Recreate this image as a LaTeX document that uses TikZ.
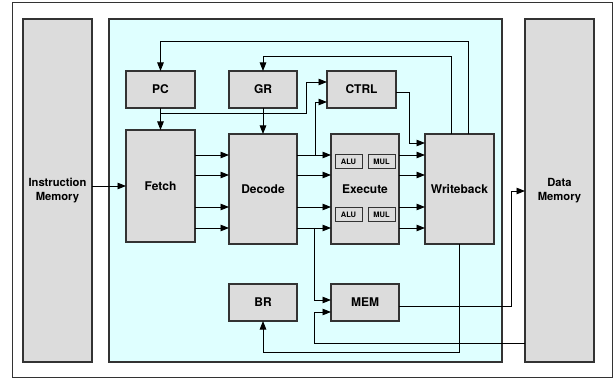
\documentclass[tikz,border=0pt]{standalone}
\usepackage{fontspec}
\setmainfont{TeX Gyre Heros}
\usetikzlibrary{arrows.meta}
\definecolor{boxgray}{HTML}{DCDCDC}
\definecolor{cpucyan}{HTML}{DFFFFF}
\definecolor{edgegray}{HTML}{333333}
\tikzset{
  blk/.style={draw=edgegray, line width=1.1pt, fill=boxgray, inner sep=0pt, outer sep=0pt,
    font=\fontsize{12}{14}\selectfont\bfseries, align=center},
  memblk/.style={blk, font=\fontsize{11.2}{14}\selectfont\bfseries},
  unit/.style={draw=edgegray, line width=1pt, fill=boxgray, inner sep=0pt, outer sep=0pt,
    minimum width=27pt, minimum height=14pt, font=\fontsize{7.5}{8}\selectfont\bfseries},
  arr/.style={line width=0.9pt, -{Triangle[length=8.5pt,width=6.5pt]}},
  ln/.style={line width=0.9pt}
}
\begin{document}
\begin{tikzpicture}[x=1pt,y=-1pt]
\useasboundingbox (0,0) rectangle (615,379);
% frames
\node[draw=edgegray, line width=1pt, fill=white, minimum width=600pt, minimum height=374pt, inner sep=0pt] (outer) at (312,190) {};
\node[blk, minimum width=393pt, minimum height=343pt, fill=cpucyan] (cpu) at (305.5,190.5) {};
\node[memblk, minimum width=69pt, minimum height=343pt] (imem) at (57.5,190.5) {Instruction\\Memory};
\node[memblk, minimum width=69pt, minimum height=343pt] (dmem) at (559.5,190.5) {Data\\Memory};
% blocks
\node[blk, minimum width=69pt, minimum height=37pt] (pc) at (160.5,89.5) {PC};
\node[blk, minimum width=68pt, minimum height=37pt] (gr) at (263,89.5) {GR};
\node[blk, minimum width=69pt, minimum height=37pt] (ctrl) at (361.5,89.5) {CTRL};
\node[blk, minimum width=69pt, minimum height=112pt] (fetch) at (160.5,186) {Fetch};
\node[blk, minimum width=68pt, minimum height=110pt] (decode) at (263,189) {Decode};
\node[blk, minimum width=68pt, minimum height=110pt] (execute) at (365,189) {Execute};
\node[blk, minimum width=69pt, minimum height=110pt] (wb) at (459.5,189) {Writeback};
\node[blk, minimum width=68pt, minimum height=37pt] (br) at (263,302.5) {BR};
\node[blk, minimum width=68pt, minimum height=37pt] (mem) at (365,302.5) {MEM};
\node[unit] (alu1) at (348.5,162) {ALU};
\node[unit] (mul1) at (381.5,162) {MUL};
\node[unit] (alu2) at (348.5,214.5) {ALU};
\node[unit] (mul2) at (381.5,214.5) {MUL};
% y levels
\coordinate (ya) at (0,155);
\coordinate (yb) at (0,175);
\coordinate (yc) at (0,207);
\coordinate (yd) at (0,228);
\coordinate (yim) at (0,186);
\coordinate (y41) at (0,41);
\coordinate (y56) at (0,56);
\coordinate (y82) at (0,82);
\coordinate (y92) at (0,92);
\coordinate (y102) at (0,102);
\coordinate (y143) at (0,143);
\coordinate (y191) at (0,191);
\coordinate (y300) at (0,300);
\coordinate (y306) at (0,306);
\coordinate (y312) at (0,312);
\coordinate (y343) at (0,343);
\coordinate (y352) at (0,352);
\coordinate (y113) at (0,113);
% bend points
\coordinate (bpc) at (306,113);
\coordinate (bdec) at (315,155);
\coordinate (bctrl) at (409,92);
\coordinate (bmem) at (314,228);
\coordinate (bdm) at (314,343);
\coordinate (bmo) at (511,306);
\coordinate (xwb1) at (468,0);
\coordinate (xwb2) at (451,0);
% connectors
\draw[arr] (imem.east |- yim) -- (fetch.west |- yim);
\foreach \y in {ya,yb,yc,yd} {
  \draw[arr] (fetch.east |- \y) -- (decode.west |- \y);
  \draw[arr] (decode.east |- \y) -- (execute.west |- \y);
  \draw[arr] (execute.east |- \y) -- (wb.west |- \y);
}
\draw[arr] (pc.south) -- (fetch.north);
\draw[arr] (gr.south) -- (decode.north);
\draw[arr] (pc.south |- bpc) -- (bpc) |- (ctrl.west |- y82);
\draw[arr] (bdec) |- (ctrl.west |- y102);
\draw[arr] (ctrl.east |- y92) -- (bctrl) |- (wb.west |- y143);
\draw[arr] (bmem) |- (mem.west |- y300);
\draw[arr] (dmem.west |- y343) -- (bdm) |- (mem.west |- y312);
\draw[arr] (mem.east |- y306) -- (bmo) |- (dmem.west |- y191);
\draw[arr] (wb.south) -- (wb.south |- y352) -| (br.south);
\draw[arr] (wb.north -| xwb1) |- (pc.north |- y41) -- (pc.north);
\draw[arr] (wb.north -| xwb2) |- (gr.north |- y56) -- (gr.north);
\end{tikzpicture}
\end{document}
